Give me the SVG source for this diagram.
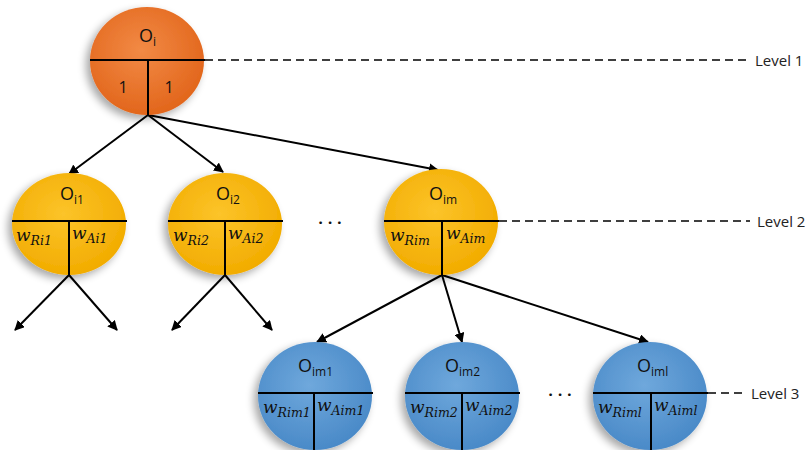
<svg xmlns="http://www.w3.org/2000/svg" width="812" height="450" viewBox="0 0 812 450">
<defs>
<radialGradient id="gO" cx="45%" cy="40%" r="60%"><stop offset="0" stop-color="#F28A45"/><stop offset="1" stop-color="#E2661C"/></radialGradient>
<radialGradient id="gY" cx="45%" cy="40%" r="60%"><stop offset="0" stop-color="#FCC42A"/><stop offset="1" stop-color="#F2AC00"/></radialGradient>
<radialGradient id="gB" cx="45%" cy="40%" r="60%"><stop offset="0" stop-color="#6FA8DC"/><stop offset="1" stop-color="#4A8AC8"/></radialGradient>
<filter id="sh" x="-30%" y="-30%" width="160%" height="160%"><feGaussianBlur in="SourceAlpha" stdDeviation="4"/><feOffset dx="-4" dy="4"/><feComponentTransfer><feFuncA type="linear" slope="0.35"/></feComponentTransfer><feMerge><feMergeNode/><feMergeNode in="SourceGraphic"/></feMerge></filter>
<marker id="ah" viewBox="0 0 10 10" refX="9" refY="5" markerWidth="5" markerHeight="5" orient="auto"><path d="M0,0 L10,5 L0,10 z" fill="#000"/></marker>
</defs>
<style>
.ln{stroke:#000;stroke-width:2;fill:none}
.ar{stroke:#000;stroke-width:2;fill:none;marker-end:url(#ah)}
.ds{stroke:#000;stroke-width:1.5;stroke-dasharray:8 5;fill:none}
.o{font-family:"Open Sans",Lato,sans-serif;font-size:18px;fill:#111}
.sub{font-size:12px}
.w{font-family:"DejaVu Serif","Liberation Serif",serif;font-style:italic;font-size:17px;fill:#111}
.ws{font-size:12.5px}
.lv{font-family:"Open Sans",Lato,sans-serif;font-size:15px;fill:#222}
.dt{font-family:Lato,sans-serif;font-size:18px;fill:#111}
</style>
<rect width="812" height="450" fill="#fff"/>

<g id="connectors">
<line class="ar" x1="148" y1="115" x2="69" y2="174"/>
<line class="ar" x1="148" y1="115" x2="223" y2="172"/>
<line class="ar" x1="148" y1="115" x2="438" y2="170"/>
<line class="ar" x1="69" y1="275" x2="15" y2="330"/>
<line class="ar" x1="69" y1="275" x2="117" y2="330"/>
<line class="ar" x1="225" y1="275" x2="172" y2="330"/>
<line class="ar" x1="225" y1="275" x2="272" y2="330"/>
<line class="ar" x1="442" y1="275" x2="317" y2="342"/>
<line class="ar" x1="442" y1="275" x2="462" y2="342"/>
<line class="ar" x1="442" y1="275" x2="648" y2="342"/>
<line class="ds" x1="205" y1="60" x2="746" y2="60"/>
<line class="ds" x1="499" y1="221" x2="750" y2="221"/>
<line class="ds" x1="708" y1="393" x2="746" y2="393"/>
</g>

<g id="node-Oi">
<ellipse cx="147" cy="61" rx="57" ry="54" fill="url(#gO)" filter="url(#sh)"/>
<line class="ln" x1="90" y1="60" x2="205" y2="60"/>
<line class="ln" x1="148" y1="60" x2="148" y2="115"/>
<text class="o" x="139" y="42">O<tspan class="sub" dy="4">i</tspan></text>
<text class="o" x="123" y="93" text-anchor="middle" style="font-size:16px">1</text>
<text class="o" x="169" y="93" text-anchor="middle" style="font-size:16px">1</text>
</g>

<g id="node-Oi1">
<ellipse cx="69" cy="224" rx="57" ry="51" fill="url(#gY)" filter="url(#sh)"/>
<line class="ln" x1="12" y1="221" x2="127" y2="221"/>
<line class="ln" x1="69" y1="221" x2="69" y2="275"/>
<text class="o" x="60" y="200">O<tspan class="sub" dy="4">i1</tspan></text>
<text class="w" x="16" y="241">w<tspan class="ws" dy="4">Ri1</tspan></text>
<text class="w" x="72" y="239">w<tspan class="ws" dy="4">Ai1</tspan></text>
</g>

<g id="node-Oi2">
<ellipse cx="225" cy="224" rx="57" ry="51" fill="url(#gY)" filter="url(#sh)"/>
<line class="ln" x1="168" y1="221" x2="283" y2="221"/>
<line class="ln" x1="225" y1="221" x2="225" y2="275"/>
<text class="o" x="216" y="200">O<tspan class="sub" dy="4">i2</tspan></text>
<text class="w" x="173" y="241">w<tspan class="ws" dy="4">Ri2</tspan></text>
<text class="w" x="228" y="239">w<tspan class="ws" dy="4">Ai2</tspan></text>
</g>

<text class="dt" x="330" y="228" text-anchor="middle">· · ·</text>

<g id="node-Oim">
<ellipse cx="441" cy="222" rx="57" ry="53" fill="url(#gY)" filter="url(#sh)"/>
<line class="ln" x1="384" y1="221" x2="499" y2="221"/>
<line class="ln" x1="442" y1="221" x2="442" y2="275"/>
<text class="o" x="429" y="200">O<tspan class="sub" dy="4">im</tspan></text>
<text class="w" x="390" y="241">w<tspan class="ws" dy="4">Rim</tspan></text>
<text class="w" x="446" y="239">w<tspan class="ws" dy="4">Aim</tspan></text>
</g>

<g id="node-Oim1">
<ellipse cx="315" cy="396" rx="57" ry="54" fill="url(#gB)" filter="url(#sh)"/>
<line class="ln" x1="258" y1="393" x2="373" y2="393"/>
<line class="ln" x1="314" y1="393" x2="314" y2="450"/>
<text class="o" x="298" y="372">O<tspan class="sub" dy="4">im1</tspan></text>
<text class="w" x="263" y="413">w<tspan class="ws" dy="4">Rim1</tspan></text>
<text class="w" x="317" y="411">w<tspan class="ws" dy="4">Aim1</tspan></text>
</g>

<g id="node-Oim2">
<ellipse cx="462" cy="396" rx="57" ry="54" fill="url(#gB)" filter="url(#sh)"/>
<line class="ln" x1="405" y1="393" x2="520" y2="393"/>
<line class="ln" x1="462" y1="393" x2="462" y2="450"/>
<text class="o" x="445" y="372">O<tspan class="sub" dy="4">im2</tspan></text>
<text class="w" x="410" y="413">w<tspan class="ws" dy="4">Rim2</tspan></text>
<text class="w" x="465" y="411">w<tspan class="ws" dy="4">Aim2</tspan></text>
</g>

<text class="dt" x="560" y="400" text-anchor="middle">· · ·</text>

<g id="node-Oiml">
<ellipse cx="650" cy="396" rx="57" ry="54" fill="url(#gB)" filter="url(#sh)"/>
<line class="ln" x1="593" y1="393" x2="708" y2="393"/>
<line class="ln" x1="651" y1="393" x2="651" y2="450"/>
<text class="o" x="637" y="372">O<tspan class="sub" dy="4">iml</tspan></text>
<text class="w" x="598" y="413">w<tspan class="ws" dy="4">Riml</tspan></text>
<text class="w" x="654" y="411">w<tspan class="ws" dy="4">Aiml</tspan></text>
</g>

<g id="levels">
<text class="lv" x="755" y="66">Level 1</text>
<text class="lv" x="757" y="227">Level 2</text>
<text class="lv" x="751" y="399">Level 3</text>
</g>
</svg>
